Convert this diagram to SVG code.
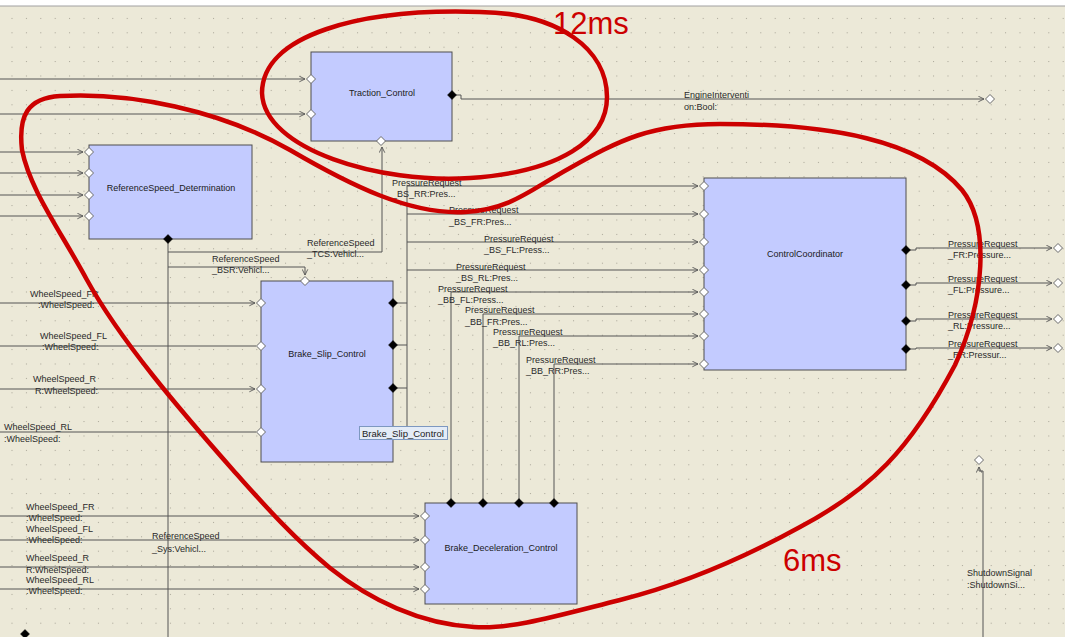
<svg xmlns="http://www.w3.org/2000/svg" width="1065" height="637" viewBox="0 0 1065 637">
<style>
.bg{fill:#ECE9D8}
.box{fill:#C3CBFF;stroke:#4E4E4E;stroke-width:1}
.ln{fill:none;stroke:#555;stroke-width:1}
.lna{fill:none;stroke:#555;stroke-width:1;marker-end:url(#arr)}
.pin{fill:#fff;stroke:#6A6A6A;stroke-width:1}
.pout{fill:#000;stroke:#000;stroke-width:0.5}
.t{font-family:"Liberation Sans",Arial,sans-serif;font-size:9px;fill:#2A2A2A}
.nt{font-family:"Liberation Sans",Arial,sans-serif;font-size:9px;fill:#1A1A1A;text-anchor:middle}
.red{fill:none;stroke:#CC0000;stroke-width:4.5}
.rt{font-family:"Liberation Sans",Arial,sans-serif;font-size:31px;fill:#CC0000}
.tip{fill:#E4ECF7;stroke:#7D98C0;stroke-width:1}
.tipt{font-family:"Liberation Sans",Arial,sans-serif;font-size:9.5px;fill:#222}
</style>
<defs>
<pattern id="grid" width="14.4" height="14.4" patternUnits="userSpaceOnUse" x="11.5" y="3.5">
<rect width="1" height="1" fill="#A5A294"/>
</pattern>
<marker id="arr" viewBox="0 0 8 8" refX="7" refY="4" markerWidth="7" markerHeight="7" markerUnits="userSpaceOnUse" orient="auto">
<path d="M0.5,0.8 L7,4 L0.5,7.2" fill="none" stroke="#555" stroke-width="1"/>
</marker>
<path id="dia" d="M0,-4.5 L4.5,0 L0,4.5 L-4.5,0Z"/>
</defs>

<rect x="0" y="0" width="1065" height="637" fill="#fff"/>
<rect class="bg" x="0" y="6" width="1065" height="631"/>
<rect x="0" y="6" width="1065" height="631" fill="url(#grid)"/>
<line x1="0" y1="6" x2="1065" y2="6" stroke="#A0A0A0" stroke-width="1"/>

<g id="connectors">
<path class="lna" d="M0,79 H305"/>
<path class="lna" d="M0,114 H305"/>
<path class="lna" d="M0,152 H83"/>
<path class="lna" d="M0,173 H83"/>
<path class="lna" d="M0,195 H83"/>
<path class="lna" d="M0,216 H83"/>
<path class="lna" d="M0,303 H255"/>
<path class="ln" d="M0,346 H256"/>
<path class="lna" d="M0,389 H255"/>
<path class="ln" d="M0,432 H256"/>
<path class="lna" d="M0,516 H419"/>
<path class="lna" d="M0,540 H419"/>
<path class="lna" d="M0,567 H419"/>
<path class="lna" d="M0,589 H419"/>
<path class="ln" d="M168,239 V637"/>
<path class="lna" d="M168,252 H382 V147"/>
<path class="lna" d="M168,267 H305 V275"/>
<path class="lna" d="M452,95 H461 V99 H984"/>
<path class="ln" d="M393,303 H407 M393,345 H407 M393,388 H407 M407,186 V428"/>
<path class="lna" d="M407,186 H698"/>
<path class="lna" d="M407,214 H698"/>
<path class="lna" d="M407,242 H698"/>
<path class="lna" d="M407,270 H698"/>
<path class="lna" d="M451,503 V292 H698"/>
<path class="lna" d="M483,503 V314 H698"/>
<path class="lna" d="M519,503 V336 H698"/>
<path class="lna" d="M554,503 V364 H698"/>
<path class="lna" d="M906,250 H916 V248 H1052"/>
<path class="lna" d="M906,285 H916 V283 H1052"/>
<path class="lna" d="M906,321 H916 V319 H1052"/>
<path class="lna" d="M906,349 H916 V348 H1052"/>
<path class="lna" d="M983,637 V471 H979 V467"/>
<use href="#dia" class="pin" x="990" y="99"/>
<use href="#dia" class="pin" x="1058" y="248"/>
<use href="#dia" class="pin" x="1058" y="283"/>
<use href="#dia" class="pin" x="1058" y="319"/>
<use href="#dia" class="pin" x="1058" y="348"/>
<use href="#dia" class="pin" x="979" y="460"/>
<use href="#dia" class="pout" x="25" y="634"/>
<text class="t" x="684" y="98">EngineInterventi</text>
<text class="t" x="684" y="110">on:Bool:</text>
<text class="t" x="307" y="246">ReferenceSpeed</text>
<text class="t" x="307" y="257">_TCS:Vehicl...</text>
<text class="t" x="212" y="262">ReferenceSpeed</text>
<text class="t" x="212" y="273">_BSR:Vehicl...</text>
<text class="t" x="152" y="539">ReferenceSpeed</text>
<text class="t" x="152" y="552">_Sys:Vehicl...</text>
<text class="t" x="392" y="186">PressureRequest</text>
<text class="t" x="392" y="197">_BS_RR:Pres...</text>
<text class="t" x="449" y="213">PressureRequest</text>
<text class="t" x="449" y="225">_BS_FR:Pres...</text>
<text class="t" x="484" y="242">PressureRequest</text>
<text class="t" x="484" y="253">_BS_FL:Press...</text>
<text class="t" x="456" y="270">PressureRequest</text>
<text class="t" x="456" y="281">_BS_RL:Pres...</text>
<text class="t" x="438" y="292">PressureRequest</text>
<text class="t" x="438" y="303">_BB_FL:Press...</text>
<text class="t" x="465" y="313">PressureRequest</text>
<text class="t" x="465" y="325">_BB_FR:Pres...</text>
<text class="t" x="493" y="335">PressureRequest</text>
<text class="t" x="493" y="346">_BB_RL:Pres...</text>
<text class="t" x="526" y="363">PressureRequest</text>
<text class="t" x="526" y="374">_BB_RR:Pres...</text>
<text class="t" x="948" y="247">PressureRequest</text>
<text class="t" x="948" y="258">_FR:Pressure...</text>
<text class="t" x="948" y="282">PressureRequest</text>
<text class="t" x="948" y="293">_FL:Pressure...</text>
<text class="t" x="948" y="318">PressureRequest</text>
<text class="t" x="948" y="329">_RL:Pressure...</text>
<text class="t" x="948" y="347">PressureRequest</text>
<text class="t" x="948" y="358">_RR:Pressur...</text>
<text class="t" x="30" y="297">WheelSpeed_FR</text>
<text class="t" x="38" y="308">:WheelSpeed:</text>
<text class="t" x="40" y="339">WheelSpeed_FL</text>
<text class="t" x="42" y="350">:WheelSpeed:</text>
<text class="t" x="33" y="382">WheelSpeed_R</text>
<text class="t" x="35" y="394">R:WheelSpeed:</text>
<text class="t" x="4" y="430">WheelSpeed_RL</text>
<text class="t" x="4" y="442">:WheelSpeed:</text>
<text class="t" x="26" y="510">WheelSpeed_FR</text>
<text class="t" x="26" y="521">:WheelSpeed:</text>
<text class="t" x="26" y="532">WheelSpeed_FL</text>
<text class="t" x="26" y="543">:WheelSpeed:</text>
<text class="t" x="26" y="561">WheelSpeed_R</text>
<text class="t" x="26" y="573">R:WheelSpeed:</text>
<text class="t" x="26" y="583">WheelSpeed_RL</text>
<text class="t" x="26" y="594">:WheelSpeed:</text>
<text class="t" x="967" y="576">ShutdownSignal</text>
<text class="t" x="967" y="588">:ShutdownSi...</text>
</g>

<g id="traction_control">
<rect class="box" x="311" y="52" width="141" height="89"/>
<text class="nt" x="382" y="96">Traction_Control</text>
<use href="#dia" class="pin" x="311" y="79"/>
<use href="#dia" class="pin" x="311" y="114"/>
<use href="#dia" class="pin" x="381" y="141"/>
<use href="#dia" class="pout" x="452" y="95"/>
</g>

<g id="referencespeed_determination">
<rect class="box" x="89" y="145" width="163" height="94"/>
<text class="nt" x="171" y="191">ReferenceSpeed_Determination</text>
<use href="#dia" class="pin" x="89" y="152"/>
<use href="#dia" class="pin" x="89" y="173"/>
<use href="#dia" class="pin" x="89" y="195"/>
<use href="#dia" class="pin" x="89" y="216"/>
<use href="#dia" class="pout" x="168" y="239"/>
</g>

<g id="brake_slip_control">
<rect class="box" x="261" y="281" width="132" height="181"/>
<text class="nt" x="327" y="357">Brake_Slip_Control</text>
<use href="#dia" class="pin" x="305" y="281"/>
<use href="#dia" class="pin" x="261" y="303"/>
<use href="#dia" class="pin" x="261" y="346"/>
<use href="#dia" class="pin" x="261" y="389"/>
<use href="#dia" class="pin" x="261" y="432"/>
<use href="#dia" class="pout" x="393" y="303"/>
<use href="#dia" class="pout" x="393" y="345"/>
<use href="#dia" class="pout" x="393" y="388"/>
</g>

<g id="control_coordinator">
<rect class="box" x="704" y="178" width="202" height="192"/>
<text class="nt" x="805" y="257">ControlCoordinator</text>
<use href="#dia" class="pin" x="704" y="186"/>
<use href="#dia" class="pin" x="704" y="214"/>
<use href="#dia" class="pin" x="704" y="242"/>
<use href="#dia" class="pin" x="704" y="270"/>
<use href="#dia" class="pin" x="704" y="292"/>
<use href="#dia" class="pin" x="704" y="314"/>
<use href="#dia" class="pin" x="704" y="336"/>
<use href="#dia" class="pin" x="704" y="364"/>
<use href="#dia" class="pout" x="906" y="250"/>
<use href="#dia" class="pout" x="906" y="285"/>
<use href="#dia" class="pout" x="906" y="321"/>
<use href="#dia" class="pout" x="906" y="349"/>
</g>

<g id="brake_deceleration_control">
<rect class="box" x="425" y="503" width="152" height="101"/>
<text class="nt" x="501" y="551">Brake_Deceleration_Control</text>
<use href="#dia" class="pin" x="425" y="516"/>
<use href="#dia" class="pin" x="425" y="540"/>
<use href="#dia" class="pin" x="425" y="567"/>
<use href="#dia" class="pin" x="425" y="589"/>
<use href="#dia" class="pout" x="451" y="503"/>
<use href="#dia" class="pout" x="483" y="503"/>
<use href="#dia" class="pout" x="519" y="503"/>
<use href="#dia" class="pout" x="554" y="503"/>
</g>

<g id="tooltip">
<rect class="tip" x="359.5" y="426.5" width="88" height="13"/>
<text class="tipt" x="362" y="437">Brake_Slip_Control</text>
</g>

<g id="annotations">
<path class="red" d="M262,93 C262,35 360,8 480,12 C560,13 607,50 607,97 C607,140 560,172 470,178 C380,184 264,150 262,93 Z"/>
<path class="red" d="M22,150 C18,115 28,98 60,96 C130,92 220,110 290,150 C350,185 410,215 465,212 C510,210 530,190 570,168 C620,140 650,124 720,124 C830,124 920,140 962,190 C990,225 985,300 955,365 C910,450 870,490 800,527 C740,560 680,585 620,600 C560,615 510,630 474,627 C420,624 370,600 330,568 C290,535 260,500 233,470 C180,410 120,340 87,280 C60,230 30,190 22,150 Z"/>
<text class="rt" x="553" y="34">12ms</text>
<text class="rt" x="783" y="571">6ms</text>
</g>
</svg>
